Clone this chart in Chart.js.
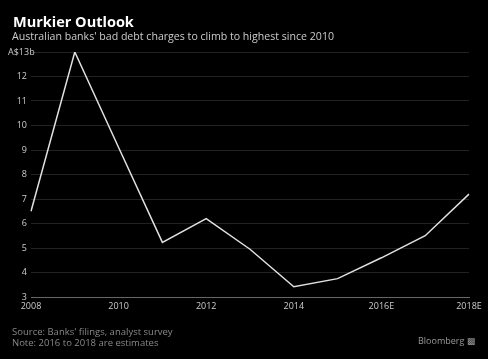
<!DOCTYPE html>
<html>
<head>
<meta charset="utf-8">
<script src="https://cdn.jsdelivr.net/npm/chart.js@4"></script>
<style>
  html, body { margin: 0; padding: 0; background: #000; }
  #wrap { position: relative; width: 488px; height: 359px; overflow: hidden; font-family: "Open Sans", sans-serif; }
  #chart { position: absolute; left: 0; top: 0; }
  .txt { position: absolute; white-space: nowrap; }
  #title { left: 13px; top: 12px; font-size: 14.5px; font-weight: bold; color: #fff; }
  #subtitle { left: 12px; top: 29px; font-size: 10.6px; color: #ccc; }
  #source { left: 12px; top: 326px; font-size: 9.5px; line-height: 11px; color: #888; }
  #brand { left: 418px; top: 334px; font-size: 9px; color: #999; }
</style>
</head>
<body>
<div id="wrap">
  <canvas id="chart" width="488" height="359"></canvas>
  <div class="txt" id="title">Murkier Outlook</div>
  <div class="txt" id="subtitle">Australian banks' bad debt charges to climb to highest since 2010</div>
  <div class="txt" id="source">Source: Banks' filings, analyst survey<br>Note: 2016 to 2018 are estimates</div>
  <div class="txt" id="brand">Bloomberg &#9641;</div>
</div>
<script>
const years = ['2008', '2009', '2010', '2011', '2012', '2013', '2014', '2015', '2016E', '2017E', '2018E'];
const badDebt = [6.5, 13.0, 9.1, 5.23, 6.2, 4.95, 3.42, 3.75, 4.6, 5.5, 7.2];
const yTicks = [3, 4, 5, 6, 7, 8, 9, 10, 11, 12, 13];

// draws the "A$13b" label left of the top gridline
const topLabel = {
    id: 'topLabel',
    afterDraw(chart) {
        const ctx = chart.ctx;
        const y = chart.scales.y.getPixelForValue(13);
        ctx.save();
        ctx.font = '9px "Open Sans"';
        ctx.fillStyle = '#ccc';
        ctx.textAlign = 'left';
        ctx.textBaseline = 'middle';
        ctx.fillText('A$13b', 8, y);
        ctx.restore();
    }
};

new Chart(document.getElementById('chart'), {
    type: 'line',
    data: {
        labels: years,
        datasets: [{
            data: badDebt,
            borderColor: '#e0e0e0',
            borderWidth: 1.5,
            pointRadius: 0,
            tension: 0,
            fill: false
        }]
    },
    options: {
        responsive: false,
        animation: false,
        layout: { padding: { left: 0, right: 19, top: 52, bottom: 42 } },
        plugins: { legend: { display: false }, tooltip: { enabled: false } },
        scales: {
            x: {
                offset: false,
                afterFit: scale => { scale.height = 20; },
                grid: { display: false, drawOnChartArea: false, drawTicks: false },
                border: { color: '#666', width: 1 },
                ticks: {
                    autoSkip: false,
                    maxRotation: 0,
                    color: '#ccc',
                    font: { size: 9, family: 'Open Sans' },
                    padding: 4,
                    callback: function (val, i) { return i % 2 === 0 ? this.getLabelForValue(val) : ''; }
                }
            },
            y: {
                min: 3,
                max: 13,
                afterFit: scale => { scale.width = 31; },
                afterBuildTicks: scale => { scale.ticks = yTicks.map(v => ({ value: v })); },
                grid: {
                    color: ctx => ctx.tick && ctx.tick.value === 3 ? '#000' : '#222',
                    drawTicks: false
                },
                border: { display: false },
                ticks: {
                    color: '#ccc',
                    font: { size: 9, family: 'Open Sans' },
                    padding: 4,
                    callback: v => v === 13 ? '' : v
                }
            }
        }
    },
    plugins: [topLabel]
});
</script>
</body>
</html>
